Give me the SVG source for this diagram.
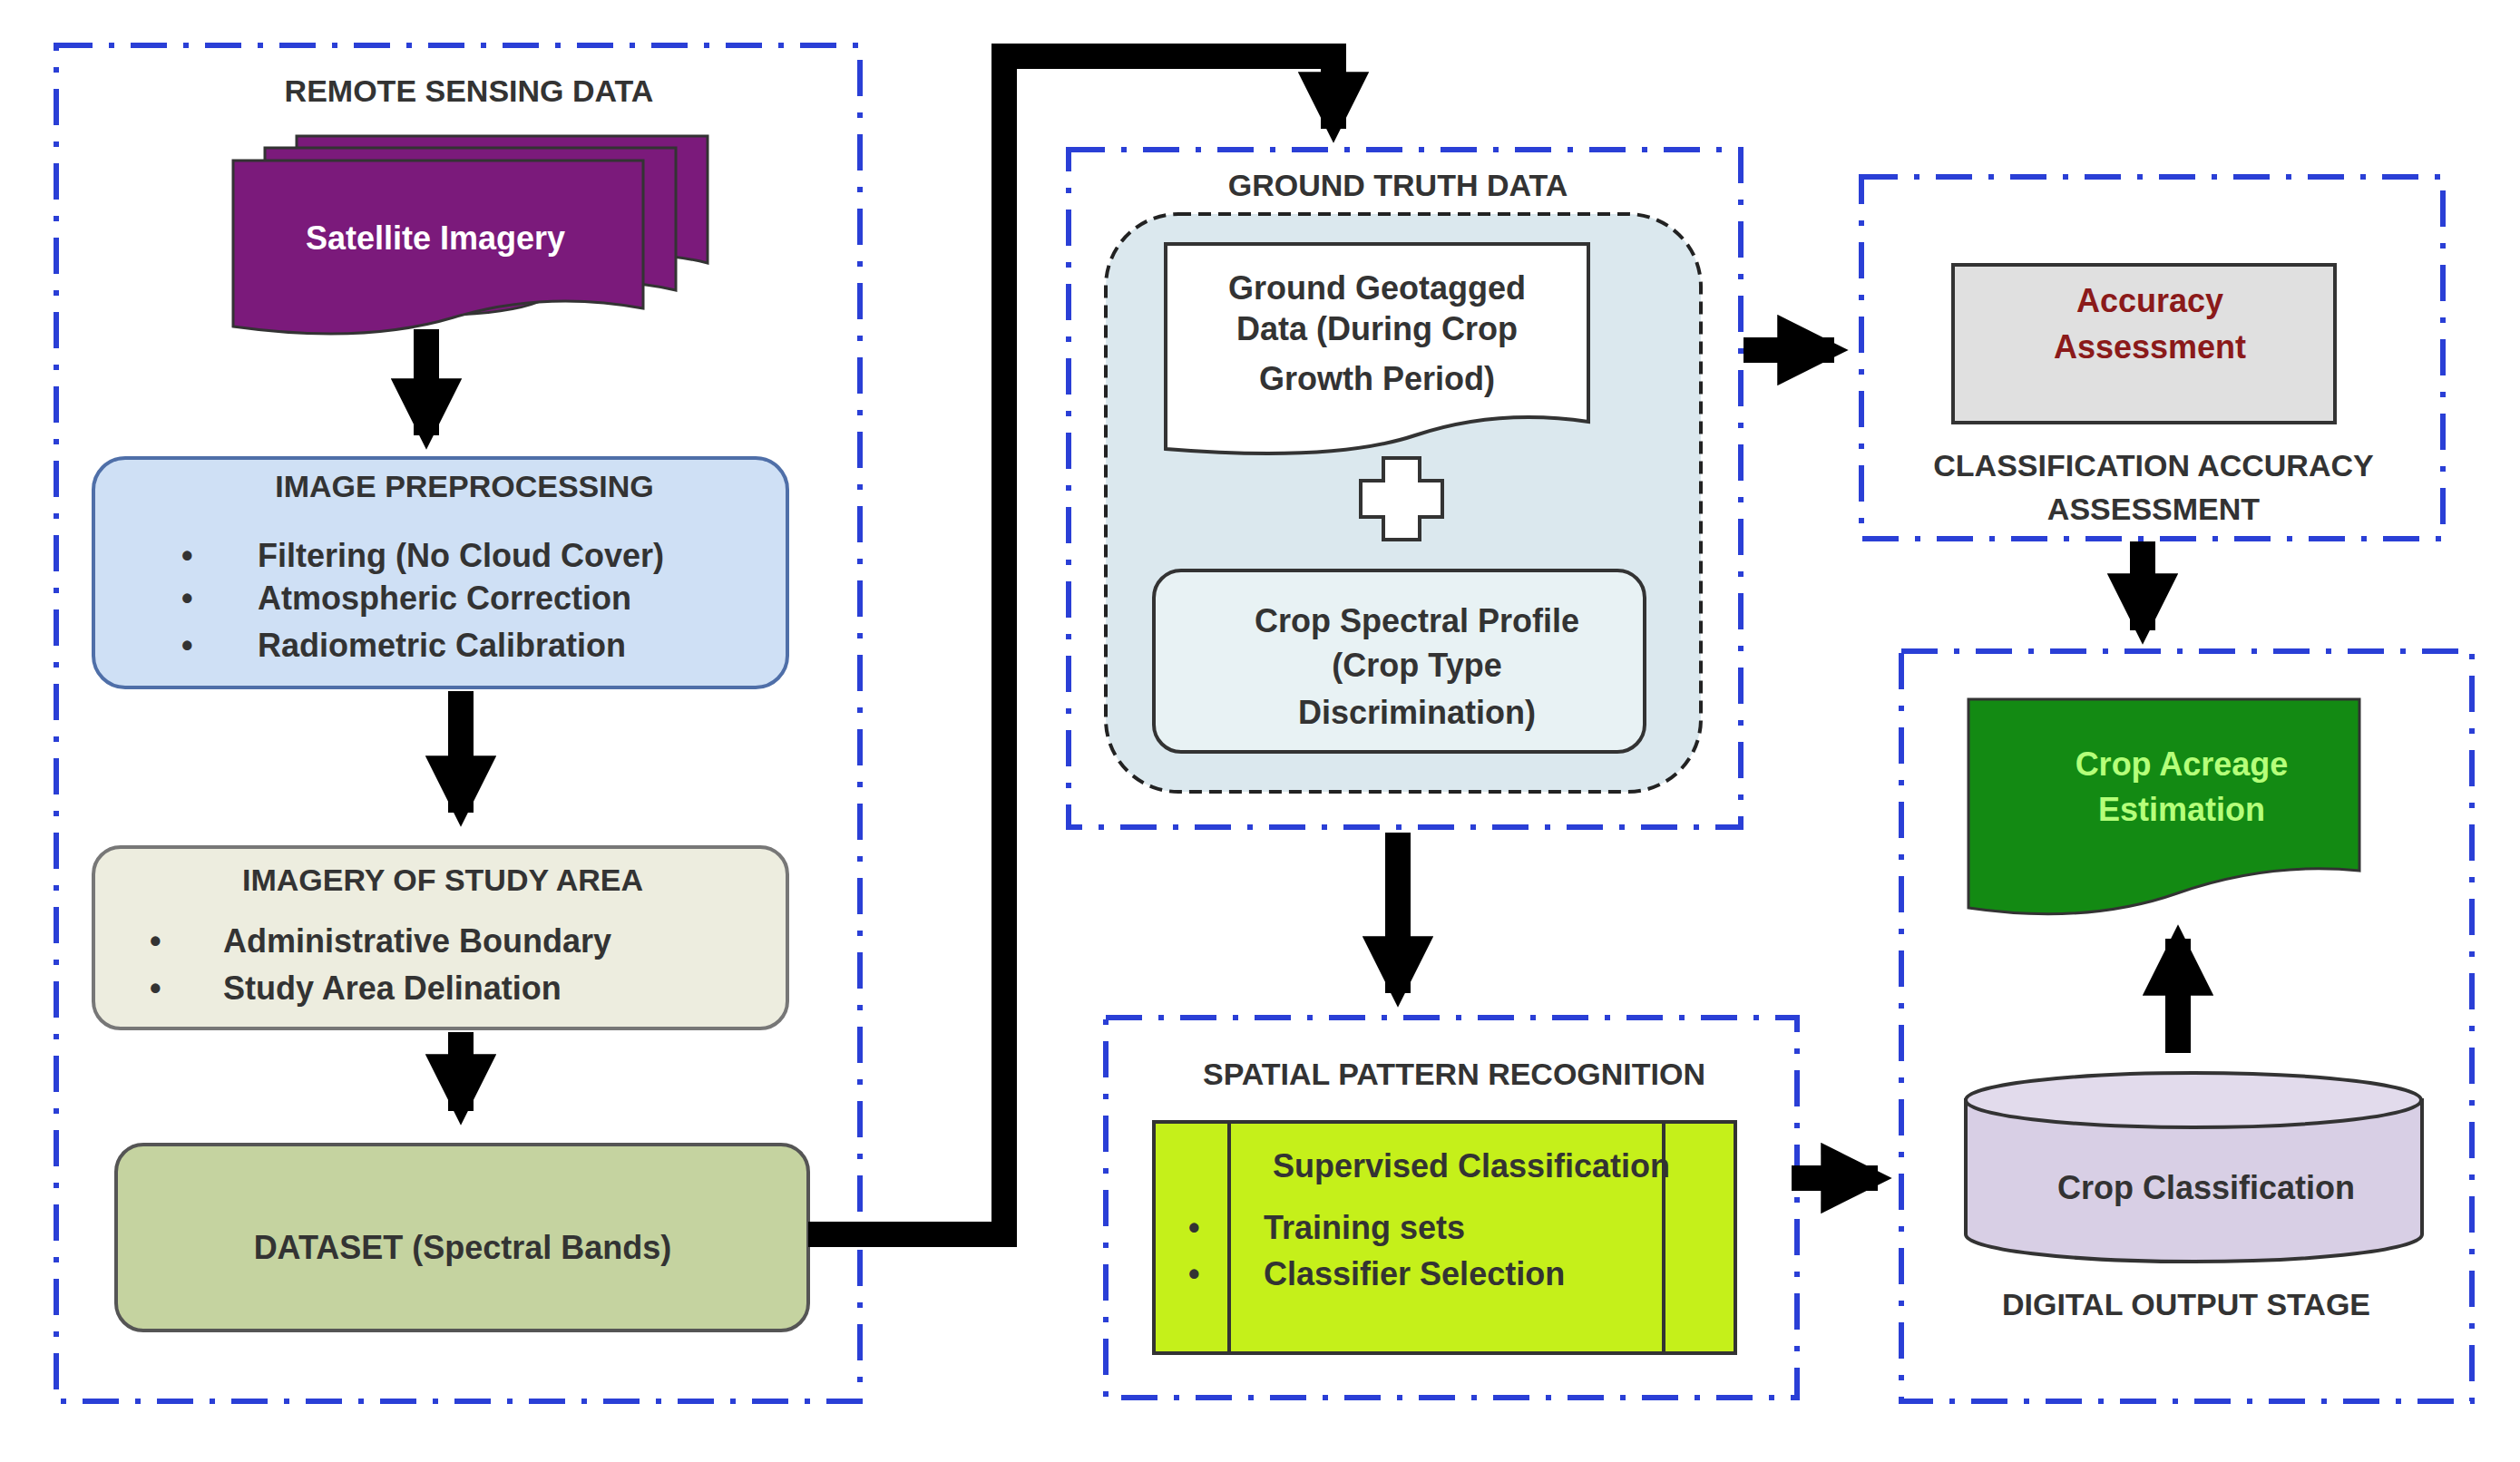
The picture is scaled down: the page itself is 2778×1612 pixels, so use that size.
<svg xmlns="http://www.w3.org/2000/svg" width="2778" height="1612" viewBox="0 0 2778 1612">
<defs>
<style>
.grp{fill:none;stroke:#2a3fd6;stroke-width:6;stroke-dasharray:40 18 6 18}
.t{font-family:"Liberation Sans",Arial,sans-serif;font-weight:bold;font-size:36px;fill:#333}
.h{font-family:"Liberation Sans",Arial,sans-serif;font-weight:bold;font-size:34px;fill:#333}
.c{stroke:#000;stroke-width:28;fill:none}
</style>
<marker id="ah" viewBox="0 0 10 10" refX="8" refY="5" markerWidth="2.8" markerHeight="2.8" orient="auto" markerUnits="strokeWidth"><path d="M0,0L10,5L0,10z" fill="#000"/></marker>
</defs>
<rect width="2778" height="1612" fill="#fff"/>
<g id="remote-sensing"><rect class="grp" x="62" y="50" width="886" height="1495"/><text class="h" x="517" y="112" text-anchor="middle">REMOTE SENSING DATA</text></g>
<g id="satellite">
<path d="M327,150H780V290Q700,270 640,300T327,315Z" fill="#7b1a7b" stroke="#333" stroke-width="3"/>
<path d="M292,163H745V320Q660,300 600,330T292,340Z" fill="#7b1a7b" stroke="#333" stroke-width="3"/>
<path d="M257,177H709V340Q600,320 500,350T257,360Z" fill="#7b1a7b" stroke="#333" stroke-width="3"/>
<text class="t" x="480" y="275" text-anchor="middle" fill="#fff" style="fill:#fff">Satellite Imagery</text></g>
<g id="preprocessing"><rect x="103" y="505" width="765" height="253" rx="35" fill="#cfe0f5" stroke="#4f6fa8" stroke-width="4"/>
<text class="h" x="512" y="548" text-anchor="middle">IMAGE PREPROCESSING</text>
<text class="t" x="200" y="625">•</text><text class="t" x="284" y="625">Filtering (No Cloud Cover)</text>
<text class="t" x="200" y="672">•</text><text class="t" x="284" y="672">Atmospheric Correction</text>
<text class="t" x="200" y="724">•</text><text class="t" x="284" y="724">Radiometric Calibration</text></g>
<g id="study-area"><rect x="103" y="934" width="765" height="200" rx="30" fill="#ededdf" stroke="#777" stroke-width="4"/>
<text class="h" x="488" y="982" text-anchor="middle">IMAGERY OF STUDY AREA</text>
<text class="t" x="165" y="1050">•</text><text class="t" x="246" y="1050">Administrative Boundary</text>
<text class="t" x="165" y="1102">•</text><text class="t" x="246" y="1102">Study Area Delination</text></g>
<g id="dataset"><rect x="128" y="1262" width="763" height="205" rx="30" fill="#c5d3a0" stroke="#555" stroke-width="4"/>
<text class="t" x="510" y="1388" text-anchor="middle">DATASET (Spectral Bands)</text></g>
<g id="ground-truth"><rect class="grp" x="1178" y="165" width="741" height="747"/>
<text class="h" x="1541" y="216" text-anchor="middle">GROUND TRUTH DATA</text>
<rect x="1219" y="236" width="656" height="637" rx="80" fill="#dbe8ee" stroke="#222" stroke-width="4" stroke-dasharray="14 8"/>
<path d="M1285,269H1751V465Q1650,450 1560,480T1285,495Z" fill="#fff" stroke="#333" stroke-width="4"/>
<text class="t" x="1518" y="330" text-anchor="middle">Ground Geotagged</text>
<text class="t" x="1518" y="375" text-anchor="middle">Data (During Crop</text>
<text class="t" x="1518" y="430" text-anchor="middle">Growth Period)</text>
<path d="M1525,505h40v25h25v40h-25v25h-40v-25h-25v-40h25z" fill="#fff" stroke="#333" stroke-width="4"/>
<rect x="1272" y="629" width="541" height="200" rx="30" fill="#e8f2f4" stroke="#333" stroke-width="4"/>
<text class="t" x="1562" y="697" text-anchor="middle">Crop Spectral Profile</text>
<text class="t" x="1562" y="746" text-anchor="middle">(Crop Type</text>
<text class="t" x="1562" y="798" text-anchor="middle">Discrimination)</text></g>
<g id="accuracy"><rect class="grp" x="2052" y="195" width="641" height="399"/>
<rect x="2153" y="292" width="421" height="174" fill="#e0e0e0" stroke="#333" stroke-width="4"/>
<text class="t" x="2370" y="344" text-anchor="middle" style="fill:#8b1a1a">Accuracy</text>
<text class="t" x="2370" y="395" text-anchor="middle" style="fill:#8b1a1a">Assessment</text>
<text class="h" x="2374" y="525" text-anchor="middle">CLASSIFICATION ACCURACY</text>
<text class="h" x="2374" y="573" text-anchor="middle">ASSESSMENT</text></g>
<g id="spatial"><rect class="grp" x="1219" y="1122" width="762" height="419"/>
<text class="h" x="1603" y="1196" text-anchor="middle">SPATIAL PATTERN RECOGNITION</text>
<rect x="1272" y="1237" width="641" height="255" fill="#c5f01a" stroke="#333" stroke-width="4"/>
<line x1="1355" y1="1237" x2="1355" y2="1492" stroke="#333" stroke-width="4"/>
<line x1="1834" y1="1237" x2="1834" y2="1492" stroke="#333" stroke-width="4"/>
<text class="t" x="1622" y="1298" text-anchor="middle">Supervised Classification</text>
<text class="t" x="1310" y="1366">•</text><text class="t" x="1393" y="1366">Training sets</text>
<text class="t" x="1310" y="1417">•</text><text class="t" x="1393" y="1417">Classifier Selection</text></g>
<g id="output"><rect class="grp" x="2096" y="718" width="629" height="827"/>
<path d="M2170,771H2601V960Q2500,950 2400,985T2170,1001Z" fill="#138a13" stroke="#333" stroke-width="3"/>
<text class="t" x="2405" y="855" text-anchor="middle" style="fill:#b5ff7a">Crop Acreage</text>
<text class="t" x="2405" y="905" text-anchor="middle" style="fill:#b5ff7a">Estimation</text>
<path d="M2167,1213V1361A251,30 0 0 0 2670,1361V1213Z" fill="#d8cfe5" stroke="#333" stroke-width="4"/>
<ellipse cx="2418" cy="1213" rx="251" ry="30" fill="#e2dbec" stroke="#333" stroke-width="4"/>
<text class="t" x="2432" y="1322" text-anchor="middle">Crop Classification</text>
<text class="h" x="2410" y="1450" text-anchor="middle">DIGITAL OUTPUT STAGE</text></g>
<g id="connectors">
<path class="c" d="M470,363V480" marker-end="url(#ah)"/>
<path class="c" d="M508,762V896" marker-end="url(#ah)"/>
<path class="c" d="M508,1138V1225" marker-end="url(#ah)"/>
<path class="c" d="M891,1361H1107V62H1470V142" marker-end="url(#ah)"/>
<path class="c" d="M1922,386H2022" marker-end="url(#ah)"/>
<path class="c" d="M2362,597V695" marker-end="url(#ah)"/>
<path class="c" d="M1541,918V1095" marker-end="url(#ah)"/>
<path class="c" d="M1975,1299H2070" marker-end="url(#ah)"/>
<path class="c" d="M2401,1161V1035" marker-end="url(#ah)"/>
</g>
</svg>
